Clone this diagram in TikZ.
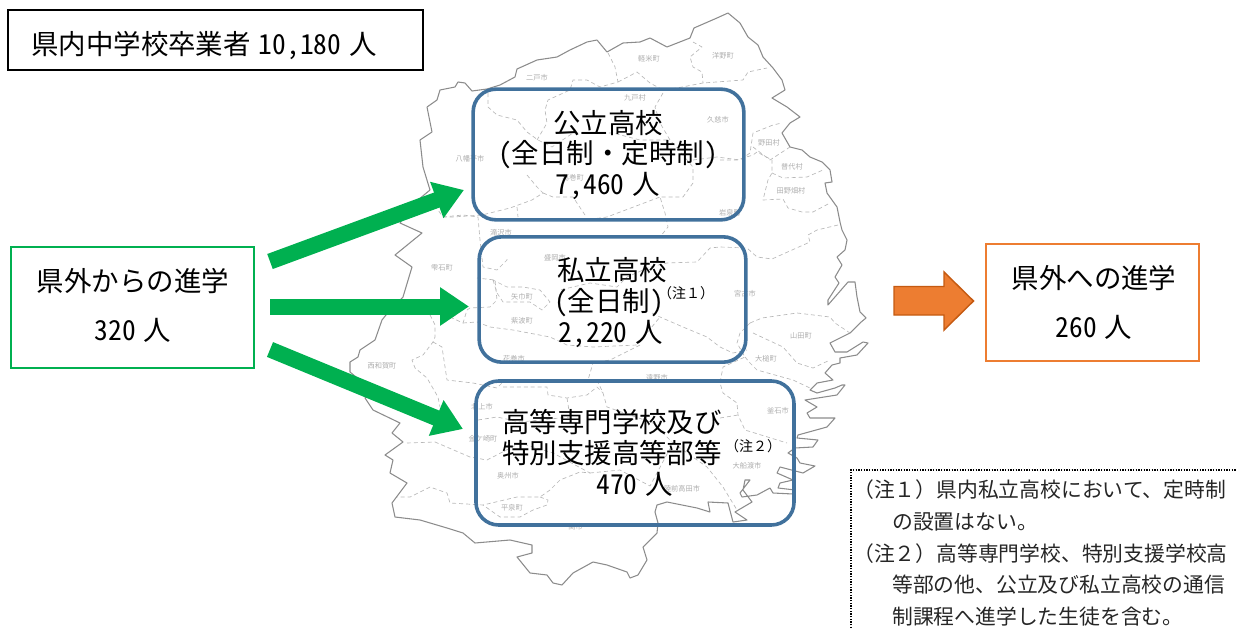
\documentclass[tikz,border=0pt]{standalone}
\usepackage{fontspec}
\usetikzlibrary{arrows.meta}
\setmainfont{Noto Sans CJK JP}
\newfontfamily\hwf[RawFeature=+hwid]{Noto Sans CJK JP}
\newcommand{\hn}[1]{{\hwf #1}}
\newcommand{\gp}{\hspace{6pt}}
\definecolor{mapline}{HTML}{8C8C8C}
\definecolor{mapdash}{HTML}{B8B8B8}
\definecolor{maptext}{HTML}{ADADAD}
\definecolor{gogreen}{HTML}{00B050}
\definecolor{goblue}{HTML}{41719C}
\definecolor{goorange}{HTML}{ED7D31}
\definecolor{goedge}{HTML}{C55A11}
\tikzset{
  coast/.style={draw=mapline,line width=0.8pt,line join=round},
  border/.style={draw=mapdash,line width=0.5pt,dash pattern=on 3pt off 2.2pt,line join=round},
  placename/.style={text=maptext,font=\fontsize{5.4}{7}\selectfont,inner sep=0pt},
  bluebox/.style={draw=goblue,line width=2.7pt,rounded corners=17pt,inner sep=0pt,fill=none},
  flatbox/.style={line width=1.9pt,fill=white,inner sep=0pt},
  biglabel/.style={font=\fontsize{20.6}{23.2}\selectfont,align=center,inner sep=0pt},
  widelabel/.style={font=\fontsize{20.6}{36.8}\selectfont,align=center,inner sep=0pt},
  notelabel/.style={font=\fontsize{15.6}{18}\selectfont,anchor=base west,inner sep=0pt,text=black!85},
  smallnote/.style={font=\fontsize{10.5}{12}\selectfont,inner sep=0pt},
  greenarrow/.style={draw=gogreen,line width=12pt,-{Triangle[length=21.75pt,width=27.5pt]}},
  orangearrow/.style={draw=goedge,fill=goorange,line width=1.1pt,line join=miter}
}
\begin{document}
\begin{tikzpicture}[x=0.75pt,y=-0.75pt]
\useasboundingbox (0,0) rectangle (1236,628);
% map outline
\draw[coast] plot coordinates {(427,107) (437,100) (440,90) (455,87) (458,82) (465,83) (472,91) (487,89) (500,85) (515,77) (517,69) (537,60) (557,57) (570,50) (587,42) (597,40) (607,52) (623,43) (640,42) (650,38) (667,47) (690,38) (694,28) (717,18) (728,13) (740,23) (748,37) (758,45) (763,57) (773,68) (782,80) (785,90) (772,98) (787,107) (800,117) (790,123) (782,133) (790,147) (802,150) (810,157) (822,162) (830,170) (832,182) (825,183) (827,193) (837,207) (840,222) (842,230) (847,240) (845,250) (837,257) (842,265) (835,277) (839,283) (828,300) (828,305) (848,282) (855,282) (857,297) (860,312) (866,318) (860,323) (850,333) (830,343) (835,352) (847,352) (863,342) (868,343) (857,355) (840,358) (840,363) (832,365) (825,373) (833,380) (817,383) (810,390) (817,393) (835,388) (842,385) (845,385) (837,395) (805,400) (817,407) (807,413) (810,418) (835,418) (827,427) (798,435) (797,438) (818,440) (813,447) (795,448) (788,453) (797,458) (800,463) (815,466) (803,473) (780,467) (777,473) (793,480) (780,483) (778,488) (795,490) (793,494) (773,493) (770,488) (757,495) (742,497) (740,493) (750,480) (745,480) (743,490) (752,502) (735,512) (747,520) (733,522) (728,503) (708,502) (710,512) (697,508) (667,502) (657,505) (655,512) (658,523) (657,533) (643,547) (647,560) (638,575) (630,578) (627,572) (607,565) (593,562) (573,573) (562,585) (553,583) (547,575) (530,573) (517,557) (532,553) (532,545) (510,540) (475,543) (463,533) (447,528) (420,520) (395,517) (392,503) (407,483) (390,473) (393,460) (385,455) (403,442) (392,433) (400,423) (373,410) (365,398) (372,388) (362,382) (350,372) (350,362) (358,357) (360,350) (375,340) (382,320) (390,310) (403,297) (412,267) (395,255) (422,233) (400,223) (412,205) (430,190) (423,167) (420,140) (432,132) (427,107)};
% municipal borders
\draw[border] plot coordinates {(608,53) (615,67) (618,82) (600,87) (587,80) (573,80) (570,90) (548,100) (545,110) (547,123) (537,140)};
\draw[border] plot coordinates {(618,82) (637,72) (650,83) (663,90) (677,88) (703,83) (743,80) (748,72) (767,68)};
\draw[border] plot coordinates {(693,42) (702,47) (690,57) (693,67) (702,72) (703,83)};
\draw[border] plot coordinates {(488,93) (488,107) (497,115) (517,120) (527,132) (538,140) (552,147) (573,133) (613,133) (640,140) (670,140)};
\draw[border] plot coordinates {(663,93) (655,107) (660,123) (670,140) (693,167) (693,183) (683,197) (660,197) (665,213) (668,227) (660,237)};
\draw[border] plot coordinates {(527,175) (537,187) (543,193) (532,200) (510,208) (482,215) (453,217) (443,217) (438,210)};
\draw[border] plot coordinates {(443,217) (463,215) (478,217) (480,240) (483,267) (497,270) (507,260) (507,257)};
\draw[border] plot coordinates {(517,207) (518,217)};
\draw[border] plot coordinates {(543,193) (553,197) (573,197) (585,215) (585,220) (607,217) (660,197)};
\draw[border] plot coordinates {(693,160) (717,157) (740,160) (750,153) (753,133) (773,125) (782,123)};
\draw[border] plot coordinates {(753,147) (770,160) (790,147)};
\draw[border] plot coordinates {(720,160) (737,160) (753,155) (757,152) (772,160) (772,173) (768,180) (763,200) (783,199) (788,208) (802,212) (813,212) (830,203)};
\draw[border] plot coordinates {(772,173) (783,178) (807,177) (823,170)};
\draw[border] plot coordinates {(838,225) (817,230) (808,235) (810,242) (792,250) (772,259) (757,257) (747,248) (720,247) (710,248) (697,262) (667,263) (650,267) (627,277) (617,287) (590,283) (560,290)};
\draw[border] plot coordinates {(652,313) (660,317) (683,327) (707,337) (720,347) (733,353) (747,350)};
\draw[border] plot coordinates {(430,315) (435,325) (435,337) (433,342) (423,355) (412,360) (415,368) (427,378) (438,397) (440,407)};
\draw[border] plot coordinates {(433,342) (442,347) (447,380) (473,383) (497,388) (502,383)};
\draw[border] plot coordinates {(450,317) (463,323) (467,310) (470,308) (490,307) (497,300) (495,280) (477,278)};
\draw[border] plot coordinates {(493,280) (497,293) (503,302) (530,302) (542,310) (550,302) (540,290) (523,287) (507,287) (493,280)};
\draw[border] plot coordinates {(463,323) (477,322) (490,327) (513,330) (550,337) (567,345) (593,347) (637,345) (660,317)};
\draw[border] plot coordinates {(640,345) (610,360) (593,363) (588,380)};
\draw[border] plot coordinates {(750,323) (762,318) (797,313) (830,317) (835,323) (850,333)};
\draw[border] plot coordinates {(750,323) (740,333) (737,343) (745,357) (723,367) (720,383) (723,393) (737,403) (738,415) (745,430) (787,443)};
\draw[border] plot coordinates {(753,333) (783,347) (797,363) (813,368) (830,360)};
\draw[border] plot coordinates {(745,357) (750,363) (757,370) (793,380) (810,388)};
\draw[border] plot coordinates {(597,380) (603,393) (607,407) (630,415) (653,423) (673,443) (707,467) (723,487) (737,510)};
\draw[border] plot coordinates {(503,387) (547,387) (548,395) (567,398) (587,395) (597,387) (603,393)};
\draw[border] plot coordinates {(567,398) (570,417)};
\draw[border] plot coordinates {(478,420) (497,417) (520,422) (540,420) (570,417)};
\draw[border] plot coordinates {(720,418) (738,415)};
\draw[border] plot coordinates {(407,443) (435,442) (470,457) (487,460) (520,443) (553,453) (590,473) (580,472) (560,480) (550,490) (540,497) (517,497) (483,505) (450,503) (447,493) (430,487) (410,497) (397,497)};
\draw[border] plot coordinates {(540,497) (548,500) (547,505) (533,510) (520,517) (500,517) (483,505)};
\draw[border] plot coordinates {(590,473) (620,470) (650,486) (673,443)};
% place names
\foreach \t/\x/\y [count=\i] in {二戸市/537/78,軽米町/649/59,洋野町/723/56,九戸村/635/98,久慈市/718/120,野田村/769/143,普代村/792/167,田野畑村/791/191,八幡平市/470/159,葛巻町/573/178,岩泉町/730/213,滝沢市/501/233,盛岡市/555/258,雫石町/442/268,矢巾町/522/297,紫波町/522/321,花巻市/514/359,宮古市/745/294,山田町/801/336,大槌町/766/359,遠野市/657/378,西和賀町/382/366,北上市/482/407,金ケ崎町/483/439,釜石市/778/411,大船渡市/747/466,陸前高田市/682/489,奥州市/508/476,平泉町/512/508,一関市/572/527}
  \node[placename] (place\i) at (\x,\y) {\t};
% boxes
\node[draw=black,flatbox,fill=none,minimum width=311pt,minimum height=45pt] (total) at (215.5,40) {};
\node[biglabel] (totaltext) at (204,46) {県内中学校卒業者\gp\hn{10,180}\gp 人};
\node[draw=gogreen,flatbox,minimum width=182pt,minimum height=90.5pt] (inbox) at (132.5,307.5) {};
\node[widelabel] (intext) at (133,305.5) {県外からの進学\\\hn{320}\gp 人};
\node[draw=goorange,flatbox,minimum width=160pt,minimum height=88pt] (outbox) at (1092.5,302.5) {};
\node[widelabel] (outtext) at (1094,302.5) {県外への進学\\\hn{260}\gp 人};
\node[bluebox,minimum width=203pt,minimum height=98pt] (pub) at (608.5,154.5) {};
\node[biglabel] (pubtext) at (608,155) {公立高校\\\hn{(}全日制・定時制\hn{)}\\\hn{7,460}\gp 人};
\node[bluebox,minimum width=200pt,minimum height=94pt] (pri) at (612.5,299.5) {};
\node[biglabel] (pritext) at (609,302.5) {\hspace*{5pt}私立高校\\\hn{(}全日制\hn{)}\\\hspace*{3pt}\hn{2,220}\gp 人};
\node[smallnote] (prinote) at (686,293) {（注１）};
\node[bluebox,minimum width=238.5pt,minimum height=108pt] (oth) at (635,453) {};
\node[biglabel] (othtext) at (612,453) {高等専門学校及び\\特別支援高等部等\\\rule{34pt}{0pt}\hn{470}\gp 人};
\node[smallnote] (othnote) at (753,446) {（注２）};
% arrows
\coordinate (a1from) at (270,261.5);
\coordinate (a1to) at (464,190);
\coordinate (a2from) at (270,306.5);
\coordinate (a2to) at (469,306.5);
\coordinate (a3from) at (270,349.5);
\coordinate (a3to) at (463,429);
\draw[greenarrow] (a1from) -- (a1to);
\draw[greenarrow] (a2from) -- (a2to);
\draw[greenarrow] (a3from) -- (a3to);
\draw[orangearrow] (894,286.5) -- (944,286.5) -- (944,272) -- (973.5,301) -- (944,330) -- (944,315) -- (894,315) -- cycle;
% note
\draw[line width=1pt,dash pattern=on 1pt off 1pt] (851,628) -- (851,470) -- (1236,470);
\node[notelabel] (n1) at (853,497) {（注１）県内私立高校において、定時制};
\node[notelabel] (n2) at (892,529) {の設置はない。};
\node[notelabel] (n3) at (853,561) {（注２）高等専門学校、特別支援学校高};
\node[notelabel] (n4) at (892,592) {等部の他、公立及び私立高校の通信};
\node[notelabel] (n5) at (892,624) {制課程へ進学した生徒を含む。};
\end{tikzpicture}
\end{document}
